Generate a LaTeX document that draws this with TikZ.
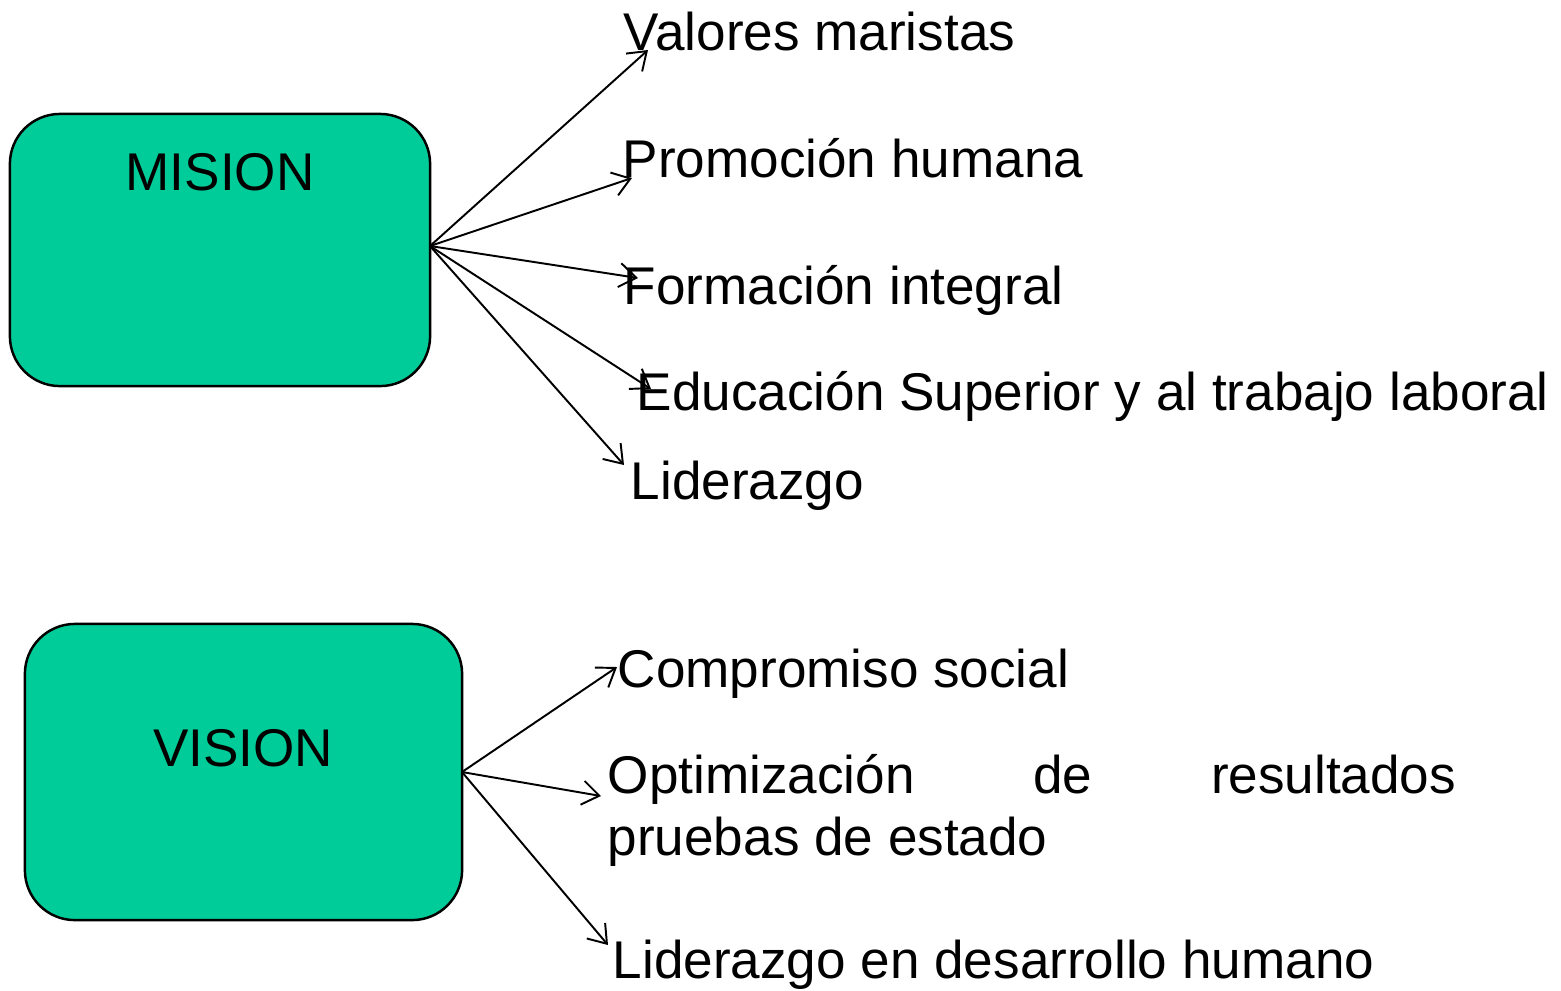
\documentclass[tikz,border=0pt]{standalone}
\usepackage{fontspec}
\setmainfont{Liberation Sans}
\usetikzlibrary{arrows.meta}
\definecolor{boxgreen}{HTML}{00CC99}
\begin{document}
\begin{tikzpicture}[x=0.01cm,y=-0.01cm,
  box/.style={draw=black,line width=0.7pt,fill=boxgreen,rounded corners=0.5cm,inner sep=0pt},
  lbl/.style={anchor=base west,inner sep=0pt,font=\fontsize{15.1}{17.6}\selectfont},
  title/.style={anchor=base,inner sep=0pt,font=\fontsize{15.1}{17.6}\selectfont},
  conn/.style={line width=0.55pt,-{Straight Barb[length=1.7mm,width=2.4mm,line width=0.55pt]}}]
\useasboundingbox (0,0) rectangle (1561,990);
% boxes
\node[box,minimum width=4.2cm,minimum height=2.72cm] (mision) at (220,250) {};
\node[title] (mt) at (220,190) {MISION};
\node[box,minimum width=4.37cm,minimum height=2.96cm] (vision) at (243.5,772) {};
\node[title] (vt) at (243,766) {VISION};
% labels
\node[lbl] (l1) at (623,50) {Valores maristas};
\node[lbl] (l2) at (622,177) {Promoción humana};
\node[lbl] (l3) at (623,304) {Formación integral};
\node[lbl] (l4) at (636,410) {Educación Superior y al trabajo laboral};
\node[lbl] (l5) at (630,499) {Liderazgo};
\node[lbl] (v1) at (617,687) {Compromiso social};
\node[lbl,align=left] (v2) at (607,855) {\makebox[8.48cm][l]{Optimización\hfill de\hfill resultados}\\pruebas de estado};
\node[lbl] (v3) at (612,978) {Liderazgo en desarrollo humano};
% connector origins and ends
\coordinate (m0) at (430,246);
\coordinate (e1) at (648,50);
\coordinate (e2) at (632,178);
\coordinate (e3) at (638,278);
\coordinate (e4) at (651,389);
\coordinate (e5) at (624,465);
\coordinate (w0) at (462,772);
\coordinate (f1) at (617,667);
\coordinate (f2) at (601,796);
\coordinate (f3) at (608,945);
\foreach \e in {e1,e2,e3,e4,e5} \draw[conn] (m0) -- (\e);
\foreach \f in {f1,f2,f3} \draw[conn] (w0) -- (\f);
\end{tikzpicture}
\end{document}
